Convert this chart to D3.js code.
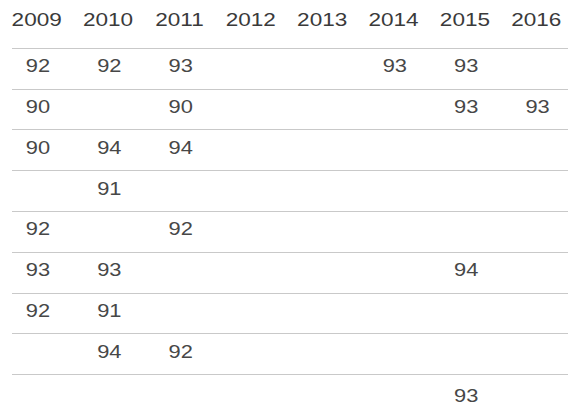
<!DOCTYPE html>
<html>
<head>
<meta charset="utf-8">
<script src="https://cdn.jsdelivr.net/npm/d3@7"></script>
<style>
  html, body { margin: 0; padding: 0; background: #fff; }
  svg { display: block; }
</style>
</head>
<body>
<svg id="chart" width="568" height="410"></svg>
<script>
// ---- data ----
const years = ["2009", "2010", "2011", "2012", "2013", "2014", "2015", "2016"];
const row1 = [92, 92, 93, null, null, 93, 93, null];
const row2 = [90, null, 90, null, null, null, 93, 93];
const row3 = [90, 94, 94, null, null, null, null, null];
const row4 = [null, 91, null, null, null, null, null, null];
const row5 = [92, null, 92, null, null, null, null, null];
const row6 = [93, 93, null, null, null, null, 94, null];
const row7 = [92, 91, null, null, null, null, null, null];
const row8 = [null, 94, 92, null, null, null, null, null];
const row9 = [null, null, null, null, null, null, 93, null];
const rows = [row1, row2, row3, row4, row5, row6, row7, row8, row9];

// ---- layout ----
const W = 568, H = 410;
const svg = d3.select("#chart");
const font = "'Helvetica Neue', Helvetica, Arial, 'Liberation Sans', sans-serif";

const x = d3.scaleBand().domain(years).range([1, 572]).padding(0);
const y = d3.scaleBand().domain(d3.range(rows.length)).range([47.7, 47.7 + rows.length * 40.8]).padding(0);
const cx = d => x(d) + x.bandwidth() / 2;

// header
svg.append("g").selectAll("text").data(years).join("text")
  .attr("transform", d => `translate(${cx(d)},25.7) scale(1.22,1)`)
  .attr("text-anchor", "middle")
  .style("font-family", font)
  .style("font-size", "18.5px")
  .attr("fill", "#3a3a3a")
  .text(d => d);

// separators
svg.append("g").selectAll("line").data(d3.range(rows.length)).join("line")
  .attr("x1", 12).attr("x2", W)
  .attr("y1", i => Math.round(y(i)) + 0.5)
  .attr("y2", i => Math.round(y(i)) + 0.5)
  .attr("stroke", "#c9c9c9")
  .attr("stroke-width", 1.2);

// cells
const cells = [];
rows.forEach((r, i) => r.forEach((v, j) => { if (v != null) cells.push({ row: i, year: years[j], v }); }));

svg.append("g").selectAll("text").data(cells).join("text")
  .attr("transform", d => `translate(${cx(d.year) + 1.3},${y(d.row) + 24.5 + (d.row === rows.length - 1 ? 3.5 : 0)}) scale(1.25,1)`)
  .attr("text-anchor", "middle")
  .style("font-family", font)
  .style("font-size", "17.5px")
  .attr("fill", "#474747")
  .text(d => d.v);
</script>
</body>
</html>
